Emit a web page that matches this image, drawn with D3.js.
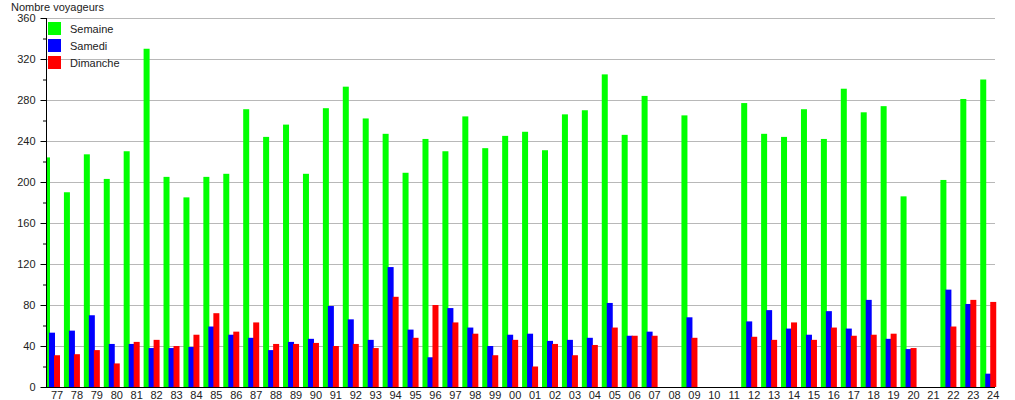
<!DOCTYPE html>
<html>
<head>
<meta charset="utf-8">
<script src="https://cdn.jsdelivr.net/npm/d3@7"></script>
<style>
  body { margin: 0; background: #fff; }
  svg text { font-family: "Liberation Sans", Arial, sans-serif; font-size: 11px; fill: #222; }
</style>
</head>
<body>
<div id="main"></div>
<script>
'use strict'

// years 1977 - 2024 (two-digit labels)
const years = ["77","78","79","80","81","82","83","84","85","86","87","88","89","90","91","92",
  "93","94","95","96","97","98","99","00","01","02","03","04","05","06","07","08",
  "09","10","11","12","13","14","15","16","17","18","19","20","21","22","23","24"];

const semaine = [224,190,227,203,230,330,205,185,205,208,271,244,256,208,272,293,
  262,247,209,242,230,264,233,245,249,231,266,270,305,246,284,0,
  265,0,0,277,247,244,271,242,291,268,274,186,0,202,281,300];

const samedi = [53,55,70,42,42,38,38,39,59,51,48,36,44,47,79,66,
  46,117,56,29,77,58,40,51,52,45,46,48,82,50,54,0,
  68,0,0,64,75,57,51,74,57,85,47,37,0,95,81,13];

const dimanche = [31,32,36,23,44,46,40,51,72,54,63,42,42,43,40,42,
  38,88,48,80,63,52,31,46,20,42,31,41,58,50,50,0,
  48,0,0,49,46,63,46,58,50,51,52,38,0,59,85,83];

const seriesNames = ["Semaine", "Samedi", "Dimanche"];
const seriesColors = ["#00ff00", "#0000ff", "#ff0000"];
const yTicks = [0,40,80,120,160,200,240,280,320,360];

document.addEventListener('DOMContentLoaded', function(){
  drawChart();
});

function drawChart(){
  let svgWidth = 1015;
  let svgHeight = 400;
  let left = 46, right = 995, top = 18, bottom = 387;

  let svg = d3.select('#main')
    .append('svg')
    .attr('width', svgWidth)
    .attr('height', svgHeight);

  //keep bars right of the y axis
  svg.append("clipPath")
    .attr("id", "plot-clip")
    .append("rect")
    .attr("x", left)
    .attr("y", 0)
    .attr("width", svgWidth - left)
    .attr("height", bottom);

  let xScale = d3.scaleBand()
    .domain(years)
    .range([44, 44 + years.length * 19.92])
    .padding(0);

  let inner = d3.scaleBand()
    .domain(seriesNames)
    .range([0, 15]);

  let yScale = d3.scaleLinear()
    .domain([0, 360])
    .range([bottom, top]);

  //grid lines
  svg.append("g")
    .selectAll("line")
    .data(yTicks.slice(1))
    .enter()
    .append("line")
    .attr("x1", left)
    .attr("x2", right)
    .attr("y1", d => yScale(d) + 0.5)
    .attr("y2", d => yScale(d) + 0.5)
    .attr("stroke", "#b8b8b8")
    .attr("stroke-width", 1);

  //bars
  let data = years.map((y, i) => ({year: y, values: [semaine[i], samedi[i], dimanche[i]]}));
  let groups = svg.append("g")
    .attr("clip-path", "url(#plot-clip)")
    .selectAll("g")
    .data(data)
    .enter()
    .append("g")
    .attr("transform", d => "translate(" + xScale(d.year) + ",0)");

  groups.selectAll("rect")
    .data(d => d.values.map((v, k) => ({name: seriesNames[k], value: v, color: seriesColors[k]})))
    .enter()
    .filter(d => d.value > 0)
    .append("rect")
    .attr("x", d => inner(d.name))
    .attr("width", inner.bandwidth() + 1)
    .attr("y", d => yScale(d.value))
    .attr("height", d => yScale(0) - yScale(d.value))
    .attr("fill", d => d.color);

  //y axis
  const yAxis = d3.axisLeft(yScale)
    .tickValues(yTicks)
    .tickSize(6)
    .tickPadding(5);
  let yg = svg.append("g")
    .attr("transform", "translate(" + (left + 0.5) + ",0)")
    .call(yAxis);
  yg.select(".domain").remove();
  yg.selectAll("line").attr("stroke", "#000");
  yg.selectAll("text").style("font-size", "11px").attr("fill", "#222");

  //minor ticks
  svg.append("g")
    .selectAll("line")
    .data(yTicks.slice(0, -1).map(d => d + 20))
    .enter()
    .append("line")
    .attr("x1", left - 3)
    .attr("x2", left)
    .attr("y1", d => yScale(d) + 0.5)
    .attr("y2", d => yScale(d) + 0.5)
    .attr("stroke", "#000");

  svg.append("line")
    .attr("x1", left + 0.5).attr("x2", left + 0.5)
    .attr("y1", top).attr("y2", bottom + 1)
    .attr("stroke", "#000");

  //x axis
  svg.append("line")
    .attr("x1", left).attr("x2", right)
    .attr("y1", bottom + 0.5).attr("y2", bottom + 0.5)
    .attr("stroke", "#000");

  svg.append("g")
    .selectAll("text")
    .data(years)
    .enter()
    .append("text")
    .attr("x", d => xScale(d) + 13)
    .attr("y", 399)
    .attr("text-anchor", "middle")
    .text(d => d);

  //title
  svg.append("text")
    .attr("x", 11)
    .attr("y", 11)
    .text("Nombre voyageurs");

  //legend
  let legend = svg.append("g")
    .selectAll("g")
    .data(seriesNames)
    .enter()
    .append("g")
    .attr("transform", (d, i) => "translate(48," + (22 + i * 17) + ")");
  legend.append("rect")
    .attr("width", 13)
    .attr("height", 13)
    .attr("fill", (d, i) => seriesColors[i]);
  legend.append("text")
    .attr("x", 22)
    .attr("y", 11)
    .text(d => d);
}
</script>
</body>
</html>
